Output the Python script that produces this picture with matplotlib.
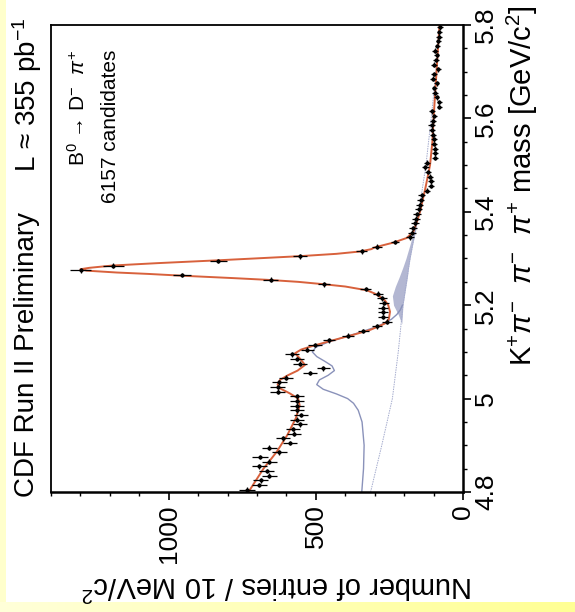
import matplotlib
matplotlib.use('Agg')
import matplotlib.pyplot as plt
import numpy as np
from matplotlib.ticker import MultipleLocator

plt.rcParams['font.family'] = ['Liberation Sans', 'DejaVu Sans']
plt.rcParams['mathtext.fontset'] = 'custom'
plt.rcParams['mathtext.rm'] = 'Liberation Sans'
plt.rcParams['mathtext.it'] = 'Liberation Sans:italic'
plt.rcParams['mathtext.bf'] = 'Liberation Sans:bold'

# B0 -> D- pi+ candidates, 10 MeV bins from 4.8 to 5.8 GeV
mass = np.arange(4.805, 5.8, 0.01)
counts = np.array([
    735, 692, 688, 659, 667, 692, 659, 690, 624, 658,
    588, 611, 574, 579, 554, 565, 551, 565, 565, 565,
    565, 630, 630, 624, 601, 520, 475, 554, 563, 580,
    529, 503, 455, 390, 339, 293, 259, 273, 273, 273,
    268, 276, 288, 331, 472, 654, 956, 1299, 1188, 831,
    554, 344, 293, 231, 180, 174, 169, 163, 160, 156,
    151, 147, 144, 140, 122, 110, 108, 112, 118, 128,
    122, 94, 94, 96, 99, 100, 102, 106, 107, 103,
    97, 106, 80, 80, 90, 95, 97, 90, 101, 99,
    84, 99, 92, 90, 95, 87, 84, 82, 80, 78])

# total fit
fit_mass = [4.800, 4.850, 4.886, 4.922, 4.958, 4.985, 5.000, 5.011, 5.022, 5.030,
            5.040, 5.050, 5.060, 5.072, 5.085, 5.097, 5.105, 5.112, 5.120, 5.129,
            5.138, 5.147, 5.155, 5.161, 5.170, 5.186, 5.200, 5.210, 5.218, 5.225,
            5.232, 5.240, 5.245, 5.250, 5.254, 5.258, 5.263, 5.267, 5.270, 5.274,
            5.277, 5.280, 5.285, 5.290, 5.296, 5.300, 5.305, 5.310, 5.315, 5.320,
            5.324, 5.334, 5.344, 5.357, 5.378, 5.400, 5.450, 5.500, 5.550, 5.600,
            5.650, 5.700, 5.750, 5.800]
fit_vals = [729, 678, 633, 597, 568, 555, 560, 588, 622, 630,
            622, 595, 562, 537, 553, 571, 550, 515, 470, 418,
            365, 316, 285, 265, 252, 248, 254, 265, 282, 300,
            327, 400, 475, 560, 656, 780, 950, 1070, 1177, 1279,
            1300, 1270, 1190, 1040, 837, 710, 554, 430, 350, 312,
            299, 237, 191, 169, 157, 146, 128, 112, 104, 100,
            95, 90, 85, 80]

# partially reconstructed B background (plus combinatorial)
part_mass = [4.80, 4.85, 4.90, 4.95, 4.975, 4.99, 5.00, 5.01, 5.02, 5.03,
             5.04, 5.05, 5.06, 5.07, 5.08, 5.09, 5.10, 5.11, 5.12, 5.13,
             5.14, 5.15, 5.16, 5.17, 5.18, 5.19, 5.20]
part_vals = [344, 338, 336, 343, 356, 372, 392, 430, 475, 497,
             488, 458, 437, 445, 470, 497, 512, 500, 462, 412,
             360, 312, 272, 243, 225, 213, 206]

# combinatorial background
comb_mass = [4.80, 4.90, 5.00, 5.10, 5.20, 5.30, 5.40, 5.50, 5.60, 5.70, 5.80]
comb_vals = [314, 276, 240, 220, 204, 180, 150, 126, 108, 92, 80]

# B0 -> D K band on top of combinatorial
band_mass = [5.16, 5.18, 5.20, 5.22, 5.24, 5.26, 5.28, 5.30, 5.33, 5.36, 5.40]
band_low = [208, 206, 204, 199, 194, 189, 185, 180, 171, 161, 150]
band_high = [208, 220, 236, 240, 230, 217, 205, 194, 180, 167, 152]

W, H = 575, 612
fig = plt.figure(figsize=(W / 100, H / 100), dpi=100)

# pale yellow frame strips
bg = fig.add_axes([0, 0, 1, 1], zorder=-10)
img = np.ones((H, W, 3))
img[:, :6, 2] = 0.80
img[602:, :, 2] = np.linspace(0.85, 0.58, W)
bg.imshow(img, aspect='auto', extent=[0, W, H, 0], interpolation='nearest')
bg.axis('off')

ax = fig.add_axes([51 / W, 1 - 492 / H, 412 / W, 467 / H])
ax.fill_betweenx(band_mass, band_low, band_high, color='#B3B7D2', lw=0)
ax.plot(comb_vals, comb_mass, color='#A3AACD', lw=0.7, ls=(0, (1.5, 1)))
ax.plot(part_vals, part_mass, color='#8A92BA', lw=1.0)
ax.plot(fit_vals, fit_mass, color='#D8613C', lw=1.4)
ax.errorbar(counts, mass, xerr=np.sqrt(counts), yerr=0.005, fmt='o', ms=2.0,
            color='black', ecolor='black', elinewidth=0.9, capsize=0)

ax.set_xlim(1400, 0)
ax.set_ylim(4.8, 5.8)
ax.set_xticks([0, 500, 1000])
ax.xaxis.set_minor_locator(MultipleLocator(100))
ax.set_yticks([4.8, 5.0, 5.2, 5.4, 5.6, 5.8])
ax.set_yticklabels(['4.8', '5', '5.2', '5.4', '5.6', '5.8'])
ax.yaxis.set_minor_locator(MultipleLocator(0.05))
ax.yaxis.tick_right()

ax.tick_params(which='major', length=6, width=1.2, direction='out', labelsize=19)
ax.tick_params(which='minor', length=3, width=1.0, direction='out')
ax.tick_params(axis='x', which='both', top=False, labelrotation=90, pad=3)
ax.tick_params(axis='y', which='both', left=False, right=True, labelrotation=90, pad=2)
for lab in ax.get_yticklabels():
    lab.set_va('center')

for side in ['right', 'bottom']:
    ax.spines[side].set_linewidth(1.8)
for side in ['left', 'top']:
    ax.spines[side].set_linewidth(1.3)

fig.text(27 / W, 1 - 497 / H, 'CDF Run II Preliminary', rotation=90,
         ha='center', va='bottom', fontsize=20)
fig.text(27 / W, 1 - 18 / H, 'L ≈ 355 pb$^{-1}$', rotation=90,
         ha='center', va='top', fontsize=20)
fig.text(78 / W, 1 - 50 / H, 'B$^{0}$ → D$^{-}$  $\\pi^{+}$', rotation=90,
         ha='center', va='top', fontsize=15)
fig.text(110 / W, 1 - 50 / H, '6157 candidates', rotation=90,
         ha='center', va='top', fontsize=15)
fig.text(522 / W, 1 - 5 / H, 'K$^{+}\\pi^{-}$  $\\pi^{-}$  $\\pi^{+}$ mass [GeV/c$^{2}$]',
         rotation=90, ha='center', va='top', fontsize=21)
fig.text(473 / W, 1 - 585 / H, 'Number of entries / 10 MeV/c$^{2}$', rotation=180,
         ha='right', va='center', fontsize=21)

fig.savefig('out.png', dpi=100)
